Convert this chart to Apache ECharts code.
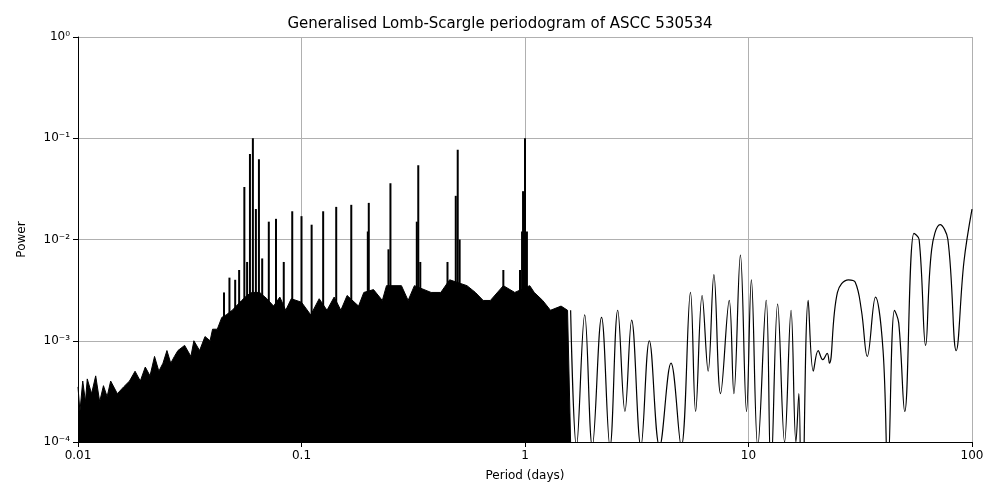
<!DOCTYPE html>
<html><head><meta charset="utf-8">
<script src="https://cdn.jsdelivr.net/npm/echarts@6/dist/echarts.min.js"></script>
</head><body style="margin:0">
<div id="c" style="width:1000px;height:500px"></div>
<script>
// noise floor envelope of the dense region [period, power]
const floorData = [
[0.01,3.5e-4],[0.0102,2e-4],[0.0105,4e-4],[0.0108,2.5e-4],[0.011,4.2e-4],[0.0115,3e-4],[0.012,4.5e-4],[0.0125,2.5e-4],[0.013,3.6e-4],[0.0135,2.8e-4],[0.014,4e-4],[0.015,3e-4],[0.016,3.5e-4],[0.017,4e-4],[0.018,5e-4],[0.019,4e-4],[0.02,5.5e-4],[0.021,4.5e-4],[0.022,7e-4],[0.023,5e-4],[0.024,6e-4],[0.025,8e-4],[0.026,6e-4],[0.027,7e-4],[0.028,8e-4],[0.03,9e-4],[0.032,7e-4],[0.033,1e-3],[0.035,8e-4],[0.037,1.1e-3],[0.039,1e-3],[0.04,1.3e-3],[0.042,1.3e-3],[0.044,1.7e-3],[0.046,1.8e-3],[0.049,2e-3],[0.052,2.3e-3],[0.054,2.5e-3],[0.057,2.8e-3],[0.06,3e-3],[0.065,3e-3],[0.07,2.6e-3],[0.075,2.2e-3],[0.08,2.7e-3],[0.085,2e-3],[0.09,2.6e-3],[0.1,2.4e-3],[0.11,1.8e-3],[0.12,2.6e-3],[0.13,2e-3],[0.14,2.7e-3],[0.15,2e-3],[0.16,2.8e-3],[0.18,2.2e-3],[0.19,3e-3],[0.21,3.2e-3],[0.23,2.5e-3],[0.24,3.5e-3],[0.28,3.5e-3],[0.3,2.5e-3],[0.32,3.5e-3],[0.38,3e-3],[0.42,3e-3],[0.46,4e-3],[0.55,3.5e-3],[0.6,3e-3],[0.65,2.5e-3],[0.7,2.5e-3],[0.8,3.5e-3],[0.9,3e-3],[1.05,3.5e-3],[1.1,3e-3],[1.2,2.5e-3],[1.3,2e-3],[1.45,2.2e-3],[1.55,2e-3],[1.6,1e-4]
];
// narrow spectral peaks [period, power]
const peakData = [
[0.045,3e-3],[0.0476,4.2e-3],[0.0505,4e-3],[0.0526,5e-3],[0.0555,0.033],[0.0571,6e-3],[0.0588,0.07],[0.0606,0.1],[0.0625,0.02],[0.0645,0.062],[0.0667,0.0065],[0.0714,0.015],[0.0769,0.016],[0.0833,0.006],[0.0909,0.019],[0.1,0.017],[0.111,0.014],[0.125,0.019],[0.143,0.021],[0.167,0.022],[0.2,0.023],[0.198,0.012],[0.25,0.036],[0.245,8e-3],[0.333,0.054],[0.328,0.015],[0.34,6e-3],[0.45,6e-3],[0.5,0.077],[0.49,0.027],[0.51,0.01],[0.8,5e-3],[0.95,5e-3],[0.97,0.012],[0.98,0.03],[1.0,0.1],[1.02,0.012]
];
const tailData = [
[1.6,2e-3],[1.7,9e-5],[1.85,1.8e-3],[2.0,9e-5],[2.2,1.7e-3],[2.4,9e-5],[2.6,2e-3],[2.8,2e-4],[3.0,1.6e-3],[3.3,9e-5],[3.6,1e-3],[4.0,9e-5],[4.5,6e-4],[5.0,9e-5],[5.5,3e-3],[5.8,2e-4],[6.2,2.8e-3],[6.6,5e-4],[7.0,4.5e-3],[7.5,3e-4],[8.2,2.5e-3],[8.6,3e-4],[9.2,7e-3],[9.8,2e-4],[10.3,4e-3],[11,9e-5],[12,2.5e-3],[12.6,5e-5],[13.5,2.3e-3],[14.5,1e-4],[15.5,2e-3],[16.3,1e-4],[16.8,3e-4],[17.3,1e-5],[18.5,2.5e-3],[19.5,5e-4],[20.5,8e-4],[21.5,6.5e-4],[22.5,7.5e-4],[23,6e-4],[25,3e-3],[28,4e-3],[30,3.8e-3],[32,2e-3],[34,7e-4],[37,2.7e-3],[40,8e-4],[42,5e-5],[45,2e-3],[47,1.5e-3],[50,2e-4],[55,1.15e-2],[58,1e-2],[62,9e-4],[66,8e-3],[72,1.4e-2],[78,1e-2],[85,8e-4],[92,6e-3],[100,2e-2]
];
const xTicks = {0.01:'0.01',0.1:'0.1',1:'1',10:'10',100:'100'};
const yTicks = {1e-4:'10⁻⁴',1e-3:'10⁻³',1e-2:'10⁻²',1e-1:'10⁻¹',1:'10⁰'};
const c = echarts.init(document.getElementById('c'));
const ax = {color:'#000',fontSize:12,fontFamily:'DejaVu Sans'};
c.setOption({
  animation:false,
  title:{text:'Generalised Lomb-Scargle periodogram of ASCC 530534',left:'center',top:12,textStyle:{fontWeight:'normal',fontSize:15,fontFamily:'DejaVu Sans',color:'#000'}},
  grid:{left:78,right:28,top:37,bottom:58},
  xAxis:{type:'log',min:0.01,max:100,logBase:10,name:'Period (days)',nameLocation:'middle',nameGap:28,nameTextStyle:ax,
    axisLine:{lineStyle:{color:'#000'}},axisTick:{lineStyle:{color:'#000'}},
    axisLabel:Object.assign({formatter:v=>xTicks[+v.toPrecision(3)]||''},ax),
    splitLine:{show:true,lineStyle:{color:'#b0b0b0'}}},
  yAxis:{type:'log',min:1e-4,max:1,logBase:10,name:'Power',nameLocation:'middle',nameGap:50,nameTextStyle:ax,
    axisLine:{lineStyle:{color:'#000'}},axisTick:{lineStyle:{color:'#000'}},
    axisLabel:Object.assign({formatter:v=>yTicks[+v.toPrecision(3)]||''},ax),
    splitLine:{show:true,lineStyle:{color:'#b0b0b0'}}},
  series:[
    {type:'line',data:floorData,symbol:'none',lineStyle:{color:'#000',width:1},areaStyle:{color:'#000',opacity:1,origin:'start'},clip:true},
    {type:'custom',data:peakData,renderItem:(params,api)=>{
      const top=api.coord([api.value(0),api.value(1)]);
      const bot=api.coord([api.value(0),1e-4]);
      return {type:'line',shape:{x1:top[0],y1:top[1],x2:bot[0],y2:bot[1]},style:{stroke:'#000',lineWidth:2}};
    }},
    {type:'line',data:tailData,symbol:'none',smooth:0.4,lineStyle:{color:'#000',width:1.2},clip:true}
  ]
});
</script></body></html>
